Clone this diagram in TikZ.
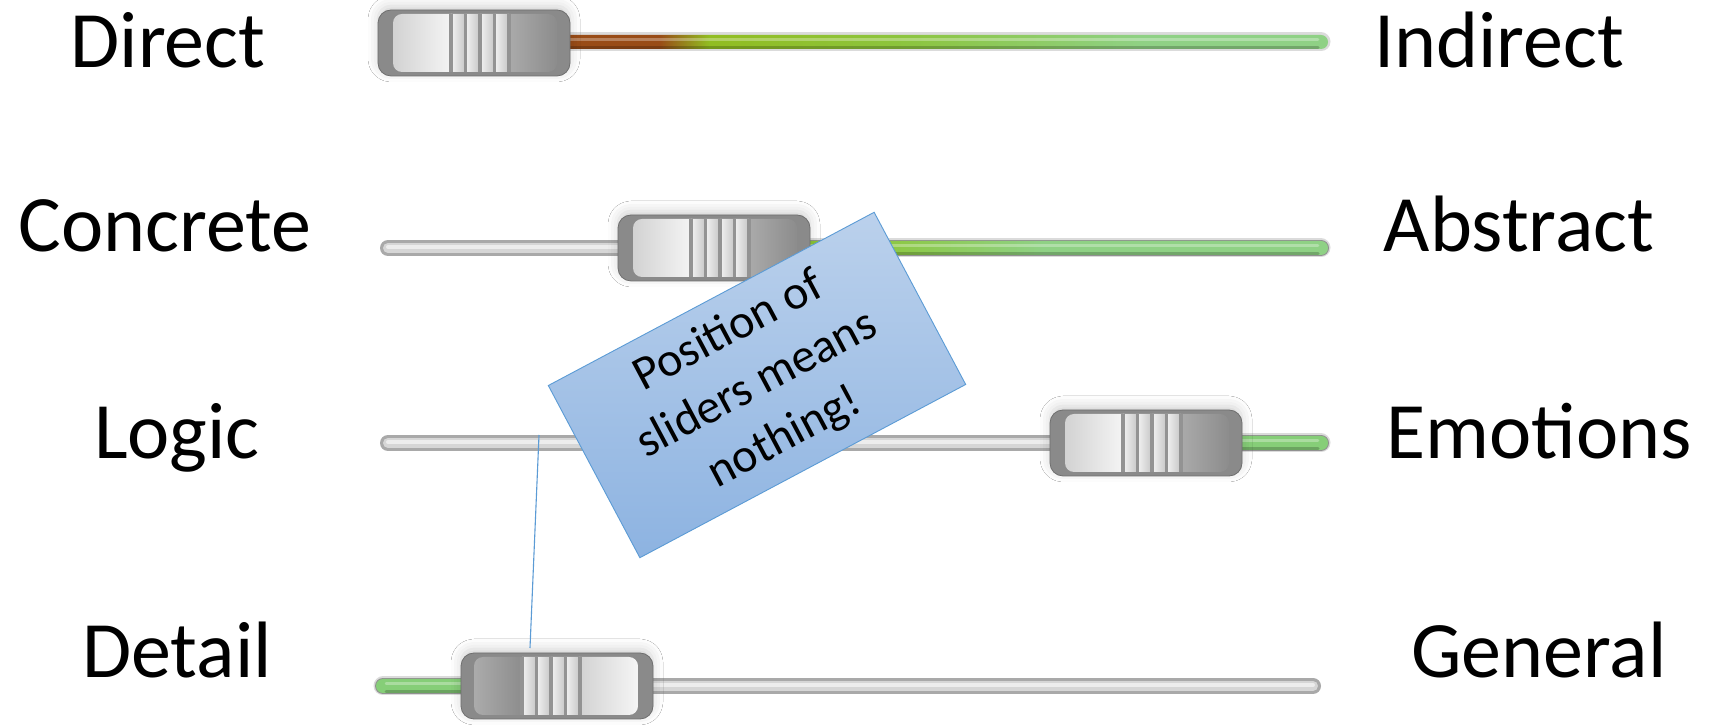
\documentclass[tikz,border=0pt]{standalone}
\usepackage{fontspec}
\setmainfont{Carlito}
\usetikzlibrary{shadows.blur}
\definecolor{knobedge}{HTML}{8A8A8A}
\definecolor{knobline}{HTML}{6E6E6E}
\definecolor{facelA}{HTML}{D2D2D2}
\definecolor{facelB}{HTML}{F5F5F5}
\definecolor{griplA}{HTML}{F2F2F2}
\definecolor{griplB}{HTML}{C6C6C6}
\definecolor{gripdark}{HTML}{939393}
\definecolor{darkfA}{HTML}{ABABAB}
\definecolor{darkfB}{HTML}{8C8C8C}
\definecolor{trackedge}{HTML}{A9A9A9}
\definecolor{trackmid}{HTML}{D6D6D6}
\definecolor{trackhi}{HTML}{EDEDED}
\definecolor{lgreen}{HTML}{86CE78}
\definecolor{notetop}{HTML}{BBD1EC}
\definecolor{notebot}{HTML}{8DB3E1}
\definecolor{noteline}{HTML}{5B9BD5}
\pgfdeclarehorizontalshading{rowonegrad}{100bp}{rgb(0bp)=(0.60,0.30,0.09); rgb(31.5bp)=(0.60,0.30,0.09); rgb(34.7bp)=(0.57,0.74,0.13); rgb(47bp)=(0.55,0.77,0.24); rgb(63bp)=(0.56,0.82,0.52); rgb(100bp)=(0.56,0.82,0.52)}
\pgfdeclarehorizontalshading{rowtwograd}{100bp}{rgb(0bp)=(0.55,0.77,0.20); rgb(25bp)=(0.55,0.77,0.20); rgb(32bp)=(0.55,0.78,0.24); rgb(48bp)=(0.56,0.82,0.52); rgb(100bp)=(0.56,0.82,0.52)}
\tikzset{
  lbl/.style={font=\fontsize{80}{96}\selectfont, anchor=base, inner sep=0pt},
  tracko/.style={line width=16pt, line cap=round, draw=trackedge},
  tracki/.style={line width=10pt, line cap=round, draw=trackmid},
  trackh/.style={line width=4pt, line cap=round, draw=trackhi},
  halo/.style={line width=19pt, line cap=round, draw=black, draw opacity=0.14},
  greendark/.style={line width=3pt, draw=black, draw opacity=0.2, line cap=round},
  greenhi/.style={line width=2.5pt, draw=white, draw opacity=0.3, line cap=round},
  notebox/.style={draw=noteline, line width=0.9pt, top color=notetop, bottom color=notebot,
    minimum width=369pt, minimum height=195pt, inner sep=0pt, align=center,
    font=\fontsize{48}{60}\selectfont},
  leader/.style={draw=noteline, line width=1.1pt},
  knob/.pic={
    \fill[knobedge, rounded corners=13pt,
      blur shadow={shadow xshift=0pt, shadow yshift=4pt, shadow blur radius=10pt, shadow opacity=18}]
      (-96,-33) rectangle (96,33);
    \draw[knobline, line width=0.8pt, rounded corners=13pt] (-96,-33) rectangle (96,33);
    \begin{scope}
      \clip[rounded corners=9pt] (-81,-29) rectangle (83,29);
      \shade[left color=facelA, right color=facelB] (-81,-29) rectangle (-22,29);
      \shade[left color=darkfA, right color=darkfB] (34,-29) rectangle (83,29);
      \foreach \s in {-23,-8.5,6,20.5} {
        \shade[left color=griplA, right color=griplB] (\s,-29) rectangle (\s+14.5,29);
      }
      \foreach \s in {-23,-8.5,6,20.5,35} {
        \fill[gripdark] (\s-1.6,-29) rectangle (\s+1.6,29);
      }
    \end{scope}
  }
}
\begin{document}
\begin{tikzpicture}[x=1pt,y=1pt]
\useasboundingbox (0,0) rectangle (1721,725);
\fill[white] (0,0) rectangle (1721,725);

% row 1: Direct / Indirect (y=683)
\draw[halo] (570,683) -- (1321,683);
\shade[shading=rowonegrad, rounded corners=7pt] (560,676) rectangle (1328,690);
\draw[greendark] (570,677.5) -- (1318,677.5);
\draw[greenhi] (570,685.5) -- (1318,685.5);
\pic at (474,682) {knob};

% row 2: Concrete / Abstract (y=477)
\draw[tracko] (388,477) -- (1321,477);
\draw[tracki] (388,477) -- (1321,477);
\draw[trackh] (388,478) -- (1321,478);
\draw[halo] (805,477) -- (1321,477);
\shade[shading=rowtwograd, rounded corners=7pt] (800,470) rectangle (1328,484);
\draw[greendark] (805,471.5) -- (1318,471.5);
\draw[greenhi] (805,479.5) -- (1318,479.5);
\pic at (714,477) {knob};

% row 3: Logic / Emotions (y=282)
\draw[tracko] (388,282) -- (1321,282);
\draw[tracki] (388,282) -- (1321,282);
\draw[trackh] (388,283) -- (1321,283);
\draw[halo] (1235,282) -- (1321,282);
\fill[lgreen, rounded corners=7pt] (1230,275) rectangle (1328,289);
\draw[greendark] (1235,276.5) -- (1318,276.5);
\draw[greenhi] (1235,284.5) -- (1318,284.5);
\pic at (1146,282) {knob};

% row 4: Detail / General (y=39)
\draw[tracko] (383,39) -- (1313,39);
\draw[tracki] (383,39) -- (1313,39);
\draw[trackh] (383,40) -- (1313,40);
\draw[halo] (383,39) -- (470,39);
\fill[lgreen, rounded corners=7pt] (376,32) rectangle (480,46);
\draw[greendark] (386,33.5) -- (470,33.5);
\draw[greenhi] (386,41.5) -- (470,41.5);
\pic[xscale=-1] at (557,39) {knob};

% labels
\node[lbl] (direct) at (168,657) {Direct};
\node[lbl] (indirect) at (1499,657) {Indirect};
\node[lbl] (concrete) at (165,473) {Concrete};
\node[lbl] (abstract) at (1519,473) {Abstract};
\node[lbl] (logic) at (177,266) {Logic};
\node[lbl] (emotions) at (1539,266) {Emotions};
\node[lbl] (detail) at (177,47) {Detail};
\node[lbl] (general) at (1539,47) {General};

% callout note
\node[notebox, rotate=28] (note) at (757,340) {Position of\\sliders means\\nothing!};
\coordinate (leadtop) at (539,290);
\coordinate (leadbot) at (530,77);
\draw[leader] (leadtop) -- (leadbot);
\end{tikzpicture}
\end{document}
